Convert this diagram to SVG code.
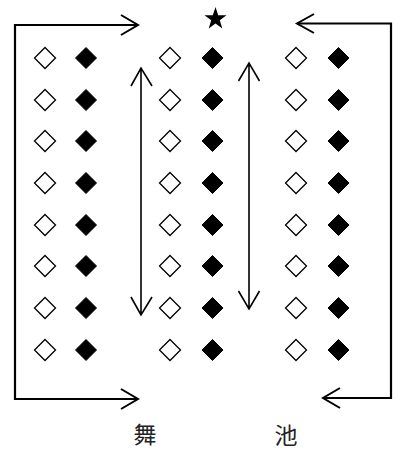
<svg xmlns="http://www.w3.org/2000/svg" width="396" height="451" viewBox="0 0 396 451">
<style>
.br{fill:none;stroke:#000;stroke-width:2.2;stroke-linejoin:miter}
.ah{fill:none;stroke:#000;stroke-width:2}
.da{fill:none;stroke:#000;stroke-width:1.6}
.o{fill:#fff;stroke:#000;stroke-width:1.3}
.f{fill:#000;stroke:#000;stroke-width:1}
.t{font-family:"Noto Sans CJK SC","Noto Sans CJK JP",sans-serif;font-size:23px;fill:#222;text-anchor:middle;dominant-baseline:central}
</style>
<defs>
<path id="od" class="o" d="M0,-10.5 L10.5,0 L0,10.5 L-10.5,0 Z"/>
<path id="fd" class="f" d="M0,-10.5 L10.5,0 L0,10.5 L-10.5,0 Z"/>
</defs>
<g id="connectors">
<path class="br" d="M138,25 H15 V399 H138"/>
<path class="ah" d="M121,15 L138,25 L121,35"/>
<path class="ah" d="M121,389 L138,399 L121,409"/>
<path class="br" d="M297,23.5 H391 V398 H323"/>
<path class="ah" d="M314,14 L297,23.5 L314,33"/>
<path class="ah" d="M340,388 L323,398 L340,408"/>
<path class="da" d="M141,68 V315 M131,86 L141,68 L152,86 M131,297 L141,315 L152,297"/>
<path class="da" d="M249,63 V309 M238.5,81 L249,63 L259.5,81 M238.5,291 L249,309 L259.5,291"/>
</g>
<g id="star"><path fill="#000" d="M215.5,7 L218.2,15.2 L226.5,15.2 L219.8,20.2 L222.3,28.5 L215.5,23.4 L208.7,28.5 L211.2,20.2 L204.5,15.2 L212.8,15.2 Z"/></g>
<g id="col1">
<use href="#od" x="45" y="58"/><use href="#od" x="45" y="100"/><use href="#od" x="45" y="141"/><use href="#od" x="45" y="183"/><use href="#od" x="45" y="225"/><use href="#od" x="45" y="266"/><use href="#od" x="45" y="308"/><use href="#od" x="45" y="350"/>
</g>
<g id="col2">
<use href="#fd" x="86" y="58"/><use href="#fd" x="86" y="100"/><use href="#fd" x="86" y="141"/><use href="#fd" x="86" y="183"/><use href="#fd" x="86" y="225"/><use href="#fd" x="86" y="266"/><use href="#fd" x="86" y="308"/><use href="#fd" x="86" y="350"/>
</g>
<g id="col3">
<use href="#od" x="170" y="58"/><use href="#od" x="170" y="100"/><use href="#od" x="170" y="141"/><use href="#od" x="170" y="183"/><use href="#od" x="170" y="225"/><use href="#od" x="170" y="266"/><use href="#od" x="170" y="308"/><use href="#od" x="170" y="350"/>
</g>
<g id="col4">
<use href="#fd" x="212.5" y="58"/><use href="#fd" x="212.5" y="100"/><use href="#fd" x="212.5" y="141"/><use href="#fd" x="212.5" y="183"/><use href="#fd" x="212.5" y="225"/><use href="#fd" x="212.5" y="266"/><use href="#fd" x="212.5" y="308"/><use href="#fd" x="212.5" y="350"/>
</g>
<g id="col5">
<use href="#od" x="296" y="58"/><use href="#od" x="296" y="100"/><use href="#od" x="296" y="141"/><use href="#od" x="296" y="183"/><use href="#od" x="296" y="225"/><use href="#od" x="296" y="266"/><use href="#od" x="296" y="308"/><use href="#od" x="296" y="350"/>
</g>
<g id="col6">
<use href="#fd" x="338.5" y="58"/><use href="#fd" x="338.5" y="100"/><use href="#fd" x="338.5" y="141"/><use href="#fd" x="338.5" y="183"/><use href="#fd" x="338.5" y="225"/><use href="#fd" x="338.5" y="266"/><use href="#fd" x="338.5" y="308"/><use href="#fd" x="338.5" y="350"/>
</g>
<g id="label-wu"><text class="t" x="145" y="433">舞</text></g>
<g id="label-chi"><text class="t" x="286" y="434">池</text></g>
</svg>
